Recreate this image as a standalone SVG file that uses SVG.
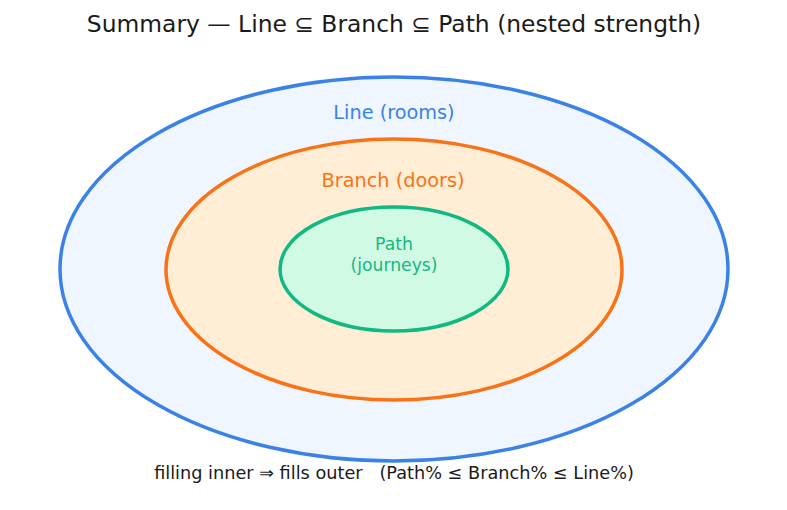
<svg xmlns="http://www.w3.org/2000/svg" width="787" height="510" viewBox="0 0 787 510">
<style>
text{font-family:"DejaVu Sans",sans-serif;text-anchor:middle;white-space:pre}
.ell{stroke-width:3.5}
</style>
<rect width="787" height="510" fill="#ffffff"/>
<text x="394" y="32" font-size="23.4" fill="#1a1a1a">Summary — Line ⊆ Branch ⊆ Path (nested strength)</text>
<g id="line">
<ellipse class="ell" cx="394" cy="269" rx="334" ry="192" fill="#eff6ff" stroke="#3b82e8"/>
<text x="394" y="118.5" font-size="19.3" fill="#3b82e8">Line (rooms)</text>
</g>
<g id="branch">
<ellipse class="ell" cx="394" cy="269.5" rx="228" ry="130.5" fill="#ffedd5" stroke="#f97316"/>
<text x="393" y="186.5" font-size="19.3" fill="#f97316">Branch (doors)</text>
</g>
<g id="path">
<ellipse class="ell" cx="394" cy="269" rx="114" ry="62" fill="#d1fae5" stroke="#10b981"/>
<text x="394" y="249.5" font-size="17.2" fill="#10b981">Path</text>
<text x="394" y="270.5" font-size="17.2" fill="#10b981">(journeys)</text>
</g>
<g id="connectors"></g>
<text x="394" y="479" font-size="17.7" fill="#1a1a1a">filling inner ⇒ fills outer   (Path% ≤ Branch% ≤ Line%)</text>
</svg>
